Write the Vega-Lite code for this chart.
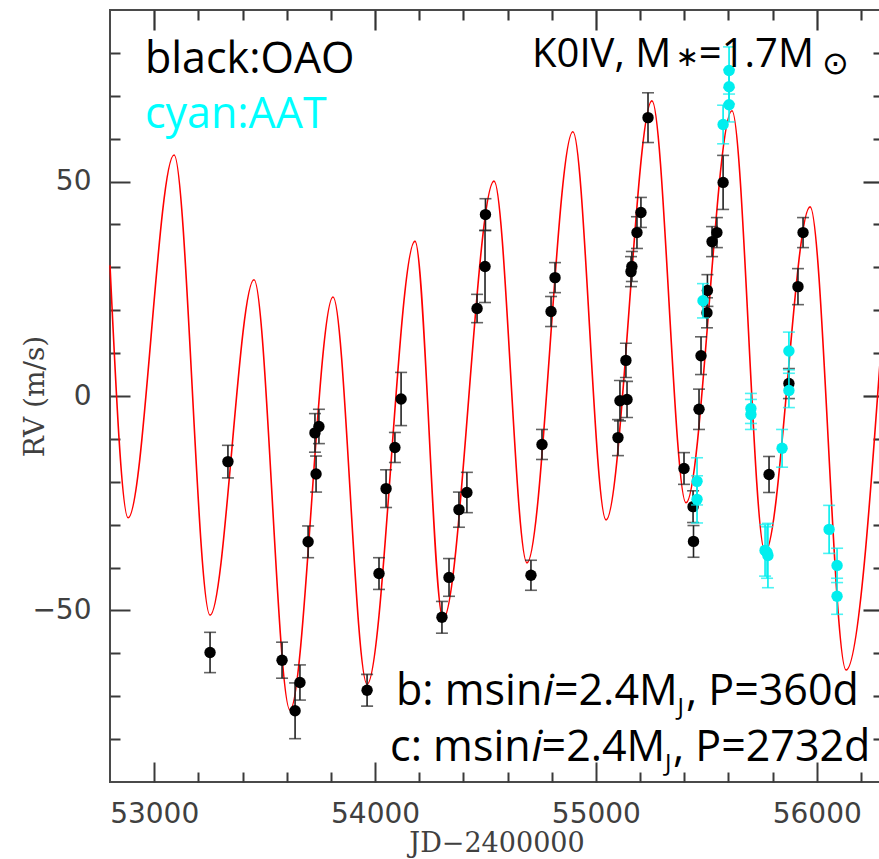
{
  "$schema": "https://vega.github.io/schema/vega-lite/v6.json",
  "width": 773,
  "height": 772,
  "autosize": {"type": "none"},
  "padding": {"left": 110, "top": 10, "right": 0, "bottom": 77},
  "background": "white",
  "config": {
    "view": {"stroke": "#4a4a4a", "strokeWidth": 2},
    "axis": {"grid": false, "domain": false}
  },
  "datasets": {
    "model": [
      {"jd": 52800, "rv": 30.5}, {"jd": 52882, "rv": -28.4}, {"jd": 53090, "rv": 56.2},
      {"jd": 53253, "rv": -51.1}, {"jd": 53452, "rv": 27.1}, {"jd": 53615, "rv": -73.2},
      {"jd": 53810, "rv": 23.1}, {"jd": 53964, "rv": -67.2}, {"jd": 54181, "rv": 36.1},
      {"jd": 54308, "rv": -52.0}, {"jd": 54539, "rv": 50.1}, {"jd": 54688, "rv": -38.9},
      {"jd": 54896, "rv": 61.6}, {"jd": 55046, "rv": -28.9}, {"jd": 55254, "rv": 68.8},
      {"jd": 55408, "rv": -24.9}, {"jd": 55616, "rv": 66.5}, {"jd": 55766, "rv": -36.4},
      {"jd": 55970, "rv": 44.1}, {"jd": 56133, "rv": -63.9}, {"jd": 56300, "rv": 17.7}
    ],
    "oao": [
      {"jd": 53253, "rv": -59.8, "err": 4.7}, {"jd": 53334, "rv": -15.3, "err": 3.8},
      {"jd": 53579, "rv": -61.6, "err": 4.2}, {"jd": 53638, "rv": -73.4, "err": 6.5},
      {"jd": 53660, "rv": -66.8, "err": 4.1}, {"jd": 53697, "rv": -34.0, "err": 3.7},
      {"jd": 53733, "rv": -18.2, "err": 4.2}, {"jd": 53728, "rv": -8.6, "err": 4.5},
      {"jd": 53746, "rv": -7.1, "err": 4.0}, {"jd": 53964, "rv": -68.6, "err": 3.7},
      {"jd": 54018, "rv": -41.4, "err": 3.7}, {"jd": 54050, "rv": -21.6, "err": 4.4},
      {"jd": 54090, "rv": -12.0, "err": 3.5}, {"jd": 54118, "rv": -0.7, "err": 6.2},
      {"jd": 54303, "rv": -51.6, "err": 3.7}, {"jd": 54335, "rv": -42.3, "err": 4.4},
      {"jd": 54380, "rv": -26.5, "err": 4.1}, {"jd": 54416, "rv": -22.5, "err": 4.7},
      {"jd": 54462, "rv": 20.4, "err": 3.3}, {"jd": 54498, "rv": 30.2, "err": 8.4},
      {"jd": 54500, "rv": 42.3, "err": 3.7}, {"jd": 54706, "rv": -41.8, "err": 3.5},
      {"jd": 54756, "rv": -11.3, "err": 3.5}, {"jd": 54797, "rv": 19.7, "err": 3.5},
      {"jd": 54815, "rv": 27.6, "err": 3.5}, {"jd": 55100, "rv": -9.7, "err": 4.2},
      {"jd": 55109, "rv": -1.1, "err": 4.7}, {"jd": 55141, "rv": -0.8, "err": 4.2},
      {"jd": 55136, "rv": 8.3, "err": 4.0}, {"jd": 55159, "rv": 29.0, "err": 3.5},
      {"jd": 55163, "rv": 30.2, "err": 3.5}, {"jd": 55186, "rv": 38.1, "err": 3.7},
      {"jd": 55204, "rv": 42.8, "err": 3.5}, {"jd": 55236, "rv": 64.9, "err": 5.8},
      {"jd": 55399, "rv": -16.9, "err": 3.7}, {"jd": 55440, "rv": -25.8, "err": 3.7},
      {"jd": 55442, "rv": -33.9, "err": 3.7}, {"jd": 55467, "rv": -3.1, "err": 4.7},
      {"jd": 55476, "rv": 9.4, "err": 4.4}, {"jd": 55503, "rv": 19.4, "err": 3.5},
      {"jd": 55505, "rv": 24.6, "err": 3.7}, {"jd": 55526, "rv": 36.0, "err": 3.5},
      {"jd": 55548, "rv": 38.1, "err": 3.5}, {"jd": 55576, "rv": 49.8, "err": 6.3},
      {"jd": 55784, "rv": -18.3, "err": 4.2}, {"jd": 55874, "rv": 2.9, "err": 3.5},
      {"jd": 55915, "rv": 25.5, "err": 4.2}, {"jd": 55938, "rv": 38.1, "err": 3.5}
    ],
    "aat": [
      {"jd": 55458, "rv": -19.9, "err": 5.5}, {"jd": 55458, "rv": -24.1, "err": 5.5},
      {"jd": 55485, "rv": 22.2, "err": 4.0}, {"jd": 55576, "rv": 63.3, "err": 4.5},
      {"jd": 55603, "rv": 67.9, "err": 4.0}, {"jd": 55603, "rv": 72.1, "err": 4.0},
      {"jd": 55603, "rv": 75.9, "err": 5.5}, {"jd": 55702, "rv": -2.9, "err": 3.5},
      {"jd": 55702, "rv": -4.3, "err": 3.5}, {"jd": 55766, "rv": -36.0, "err": 6.0},
      {"jd": 55775, "rv": -36.5, "err": 6.0}, {"jd": 55779, "rv": -37.2, "err": 7.5},
      {"jd": 55843, "rv": -12.2, "err": 4.4}, {"jd": 55874, "rv": 10.5, "err": 4.4},
      {"jd": 55874, "rv": 1.3, "err": 4.0}, {"jd": 56056, "rv": -31.1, "err": 5.6},
      {"jd": 56092, "rv": -39.5, "err": 4.0}, {"jd": 56092, "rv": -46.7, "err": 4.2}
    ]
  },
  "resolve": {"axis": {"x": "independent", "y": "independent"}},
  "layer": [
    {
      "data": {"name": "model"},
      "mark": {"type": "line", "color": "#ff0000", "strokeWidth": 1.6, "interpolate": "monotone"},
      "encoding": {
        "x": {"field": "jd", "type": "quantitative",
          "scale": {"domain": [52800, 56300], "nice": false, "zero": false},
          "axis": {"orient": "bottom", "values": [53000, 54000, 55000, 56000], "format": "d", "ticks": false, "domain": false,
            "labelPadding": 18, "labelFont": "DejaVu Sans", "labelFontSize": 28, "labelColor": "#404040",
            "labelOverlap": false, "labelFlush": false,
            "title": "JD−2400000", "titleFont": "DejaVu Serif", "titleFontSize": 27, "titleFontWeight": "normal",
            "titleColor": "#404040", "titlePadding": 2}},
        "y": {"field": "rv", "type": "quantitative",
          "scale": {"domain": [-90, 90], "nice": false, "zero": false},
          "axis": {"orient": "left", "values": [-50, 0, 50], "format": "d", "ticks": false, "domain": false,
            "labelPadding": 19, "labelFont": "DejaVu Sans", "labelFontSize": 28, "labelColor": "#404040",
            "labelOverlap": false, "labelFlush": false,
            "title": "RV (m/s)", "titleFont": "DejaVu Serif", "titleFontSize": 28, "titleFontWeight": "normal",
            "titleColor": "#404040", "titlePadding": -18}}
      }
    },
    {
      "data": {"name": "oao"},
      "mark": {"type": "errorbar", "color": "#222222", "thickness": 1.6, "size": 12, "ticks": true},
      "encoding": {
        "x": {"field": "jd", "type": "quantitative", "axis": null},
        "y": {"field": "rv", "type": "quantitative", "axis": null},
        "yError": {"field": "err"}
      }
    },
    {
      "data": {"name": "oao"},
      "mark": {"type": "circle", "color": "#000000", "size": 130, "opacity": 1},
      "encoding": {
        "x": {"field": "jd", "type": "quantitative",
          "axis": {"orient": "bottom", "values": [53000, 54000, 55000, 56000], "labels": false, "domain": false, "ticks": true,
            "tickSize": 20, "offset": -20, "tickColor": "#3a3a3a", "tickWidth": 2, "title": null}},
        "y": {"field": "rv", "type": "quantitative",
          "axis": {"orient": "left", "values": [-50, 0, 50], "labels": false, "domain": false, "ticks": true,
            "tickSize": 20, "offset": -20, "tickColor": "#3a3a3a", "tickWidth": 2, "title": null}}
      }
    },
    {
      "data": {"name": "aat"},
      "mark": {"type": "errorbar", "color": "#00eeee", "thickness": 1.6, "size": 12, "ticks": true},
      "encoding": {
        "x": {"field": "jd", "type": "quantitative", "axis": null},
        "y": {"field": "rv", "type": "quantitative", "axis": null},
        "yError": {"field": "err"}
      }
    },
    {
      "data": {"name": "aat"},
      "mark": {"type": "circle", "color": "#00eeee", "size": 130, "opacity": 1},
      "encoding": {
        "x": {"field": "jd", "type": "quantitative",
          "axis": {"orient": "bottom", "values": [53200, 53400, 53600, 53800, 54200, 54400, 54600, 54800, 55200, 55400, 55600, 55800, 56200],
            "labels": false, "domain": false, "ticks": true,
            "tickSize": 10, "offset": -10, "tickColor": "#3a3a3a", "tickWidth": 2, "title": null}},
        "y": {"field": "rv", "type": "quantitative",
          "axis": {"orient": "left", "values": [-80, -70, -60, -40, -30, -20, -10, 10, 20, 30, 40, 60, 70, 80],
            "labels": false, "domain": false, "ticks": true,
            "tickSize": 10, "offset": -10, "tickColor": "#3a3a3a", "tickWidth": 2, "title": null}}
      }
    },
    {
      "data": {"values": [{}]},
      "mark": {"type": "text", "text": "black:OAO", "font": "Open Sans", "fontSize": 43, "align": "left", "baseline": "alphabetic", "color": "#000000"},
      "encoding": {"x": {"datum": 52958, "type": "quantitative",
          "axis": {"orient": "top", "values": [53000, 54000, 55000, 56000], "labels": false, "domain": false, "ticks": true,
            "tickSize": 20, "offset": -20, "tickColor": "#333333", "tickWidth": 2.2, "title": null}},
        "y": {"datum": 75.3, "type": "quantitative",
          "axis": {"orient": "right", "values": [-50, 0, 50], "labels": false, "domain": false, "ticks": true,
            "tickSize": 20, "offset": -20, "tickColor": "#343434", "tickWidth": 2.2, "title": null}}}
    },
    {
      "data": {"values": [{}]},
      "mark": {"type": "text", "text": "cyan:AAT", "font": "Open Sans", "fontSize": 43, "align": "left", "baseline": "alphabetic", "color": "#00ffff"},
      "encoding": {"x": {"datum": 52958, "type": "quantitative",
          "axis": {"orient": "top", "values": [53200, 53400, 53600, 53800, 54200, 54400, 54600, 54800, 55200, 55400, 55600, 55800, 56200],
            "labels": false, "domain": false, "ticks": true,
            "tickSize": 10, "offset": -10, "tickColor": "#353535", "tickWidth": 2.1, "title": null}},
        "y": {"datum": 62.5, "type": "quantitative",
          "axis": {"orient": "right", "values": [-80, -70, -60, -40, -30, -20, -10, 10, 20, 30, 40, 60, 70, 80],
            "labels": false, "domain": false, "ticks": true,
            "tickSize": 10, "offset": -10, "tickColor": "#363636", "tickWidth": 2.1, "title": null}}}
    },
    {
      "data": {"values": [{}]},
      "mark": {"type": "text", "text": "K0IV, M", "font": "Open Sans", "fontSize": 40, "align": "left", "baseline": "alphabetic", "color": "#000000"},
      "encoding": {"x": {"datum": 54711, "type": "quantitative", "axis": null}, "y": {"datum": 76.7, "type": "quantitative", "axis": null}}
    },
    {
      "data": {"values": [{}]},
      "mark": {"type": "text", "text": "∗", "font": "DejaVu Sans", "fontSize": 28, "align": "left", "baseline": "alphabetic", "color": "#000000"},
      "encoding": {"x": {"datum": 55360, "type": "quantitative", "axis": null}, "y": {"datum": 76.9, "type": "quantitative", "axis": null}}
    },
    {
      "data": {"values": [{}]},
      "mark": {"type": "text", "text": "=1.7M", "font": "Open Sans", "fontSize": 40, "align": "left", "baseline": "alphabetic", "color": "#000000"},
      "encoding": {"x": {"datum": 55466, "type": "quantitative", "axis": null}, "y": {"datum": 76.7, "type": "quantitative", "axis": null}}
    },
    {
      "data": {"values": [{}]},
      "mark": {"type": "text", "text": "⊙", "font": "DejaVu Sans", "fontSize": 32, "align": "left", "baseline": "alphabetic", "color": "#000000"},
      "encoding": {"x": {"datum": 56024, "type": "quantitative", "axis": null}, "y": {"datum": 75.0, "type": "quantitative", "axis": null}}
    },
    {
      "data": {"values": [{}]},
      "mark": {"type": "text", "text": "b: msin", "font": "Open Sans", "fontSize": 43, "align": "left", "baseline": "alphabetic", "color": "#000000"},
      "encoding": {"x": {"datum": 54095, "type": "quantitative", "axis": null}, "y": {"datum": -72.05, "type": "quantitative", "axis": null}}
    },
    {
      "data": {"values": [{}]},
      "mark": {"type": "text", "text": "i", "font": "Open Sans", "fontStyle": "italic", "fontSize": 43, "align": "left", "baseline": "alphabetic", "color": "#000000"},
      "encoding": {"x": {"datum": 54760, "type": "quantitative", "axis": null}, "y": {"datum": -72.05, "type": "quantitative", "axis": null}}
    },
    {
      "data": {"values": [{}]},
      "mark": {"type": "text", "text": "=2.4M", "font": "Open Sans", "fontSize": 43, "align": "left", "baseline": "alphabetic", "color": "#000000"},
      "encoding": {"x": {"datum": 54810, "type": "quantitative", "axis": null}, "y": {"datum": -72.05, "type": "quantitative", "axis": null}}
    },
    {
      "data": {"values": [{}]},
      "mark": {"type": "text", "text": "J", "font": "Open Sans", "fontSize": 24, "align": "left", "baseline": "alphabetic", "color": "#000000"},
      "encoding": {"x": {"datum": 55370, "type": "quantitative", "axis": null}, "y": {"datum": -74.4, "type": "quantitative", "axis": null}}
    },
    {
      "data": {"values": [{}]},
      "mark": {"type": "text", "text": ", P=360d", "font": "Open Sans", "fontSize": 43, "align": "left", "baseline": "alphabetic", "color": "#000000"},
      "encoding": {"x": {"datum": 55408, "type": "quantitative", "axis": null}, "y": {"datum": -72.05, "type": "quantitative", "axis": null}}
    },
    {
      "data": {"values": [{}]},
      "mark": {"type": "text", "text": "c: msin", "font": "Open Sans", "fontSize": 43, "align": "left", "baseline": "alphabetic", "color": "#000000"},
      "encoding": {"x": {"datum": 54068, "type": "quantitative", "axis": null}, "y": {"datum": -85.1, "type": "quantitative", "axis": null}}
    },
    {
      "data": {"values": [{}]},
      "mark": {"type": "text", "text": "i", "font": "Open Sans", "fontStyle": "italic", "fontSize": 43, "align": "left", "baseline": "alphabetic", "color": "#000000"},
      "encoding": {"x": {"datum": 54708, "type": "quantitative", "axis": null}, "y": {"datum": -85.1, "type": "quantitative", "axis": null}}
    },
    {
      "data": {"values": [{}]},
      "mark": {"type": "text", "text": "=2.4M", "font": "Open Sans", "fontSize": 43, "align": "left", "baseline": "alphabetic", "color": "#000000"},
      "encoding": {"x": {"datum": 54754, "type": "quantitative", "axis": null}, "y": {"datum": -85.1, "type": "quantitative", "axis": null}}
    },
    {
      "data": {"values": [{}]},
      "mark": {"type": "text", "text": "J", "font": "Open Sans", "fontSize": 24, "align": "left", "baseline": "alphabetic", "color": "#000000"},
      "encoding": {"x": {"datum": 55313, "type": "quantitative", "axis": null}, "y": {"datum": -87.4, "type": "quantitative", "axis": null}}
    },
    {
      "data": {"values": [{}]},
      "mark": {"type": "text", "text": ", P=2732d", "font": "Open Sans", "fontSize": 43, "align": "left", "baseline": "alphabetic", "color": "#000000"},
      "encoding": {"x": {"datum": 55349, "type": "quantitative", "axis": null}, "y": {"datum": -85.1, "type": "quantitative", "axis": null}}
    }
  ]
}
